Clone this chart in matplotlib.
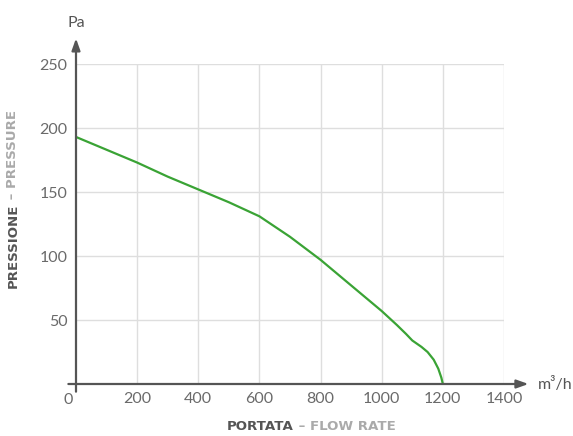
import matplotlib
matplotlib.use("Agg")
import matplotlib.pyplot as plt

# curve (m3/h, Pa)
flow = [0, 100, 200, 300, 350, 400, 500, 600, 650, 700, 800, 900, 1000, 1050, 1080, 1100,
        1130, 1150, 1170, 1185, 1195, 1200]
pressure = [193, 183, 173, 162, 157, 152, 142, 131, 123, 115, 97, 77, 57, 46, 39, 34,
            29, 25, 19, 12, 5, 0]

x_ticks = [200, 400, 600, 800, 1000, 1200, 1400]
y_ticks = [50, 100, 150, 200, 250]

GREEN = "#3aa335"
AXIS = "#555555"
TICK = "#6a6a6a"
GRID = "#dedede"

plt.rcParams["font.family"] = ["Lato", "DejaVu Sans"]

fig = plt.figure(figsize=(5.73, 4.36), dpi=100)
ax = fig.add_axes([76 / 573, 52 / 436, 428 / 573, 320 / 436])

ax.set_xlim(0, 1400)
ax.set_ylim(0, 250)
ax.set_xticks(x_ticks)
ax.set_yticks(y_ticks)
ax.grid(True, color=GRID, linewidth=1)
ax.set_axisbelow(True)
for s in ax.spines.values():
    s.set_visible(False)
ax.tick_params(length=0, labelsize=11.5, colors=TICK, pad=6)

ax.plot(flow, pressure, color=GREEN, linewidth=1.6, solid_capstyle="round",
        solid_joinstyle="round", zorder=3)

# axes with arrows
arrow = dict(arrowstyle="-|>,head_length=0.7,head_width=0.25", color=AXIS, lw=1.6, shrinkA=0, shrinkB=0)
ax.annotate("", xy=(1480, 0), xytext=(-25, 0), arrowprops=arrow, annotation_clip=False)
ax.annotate("", xy=(0, 270), xytext=(0, -6), arrowprops=arrow, annotation_clip=False)

ax.text(-25, -7, "0", ha="center", va="top", fontsize=11.5, color=TICK)
ax.text(1510, 0, "m³/h", ha="left", va="center", fontsize=11.5, color=AXIS)
ax.text(0, 282, "Pa", ha="center", va="center", fontsize=11.5, color=AXIS)

# axis titles in two tones
lab = dict(family=["DejaVu Sans"], fontsize=9.6, fontweight="bold")
t1 = fig.text(294 / 573, 3 / 436, "PORTATA", ha="right", va="bottom", color=AXIS, **lab)
ax.annotate(" – FLOW RATE", xy=(1, 0), xycoords=t1, ha="left", va="bottom",
            color="#aaaaaa", **lab)

t2 = fig.text(13 / 573, (436 - 204) / 436, "PRESSIONE", ha="center", va="top",
              rotation=90, color=AXIS, **lab)
ax.annotate(" – PRESSURE", xy=(0.5, 1), xycoords=t2, ha="center", va="bottom",
            rotation=90, color="#aaaaaa", **lab)

fig.savefig("out.png", dpi=100)
